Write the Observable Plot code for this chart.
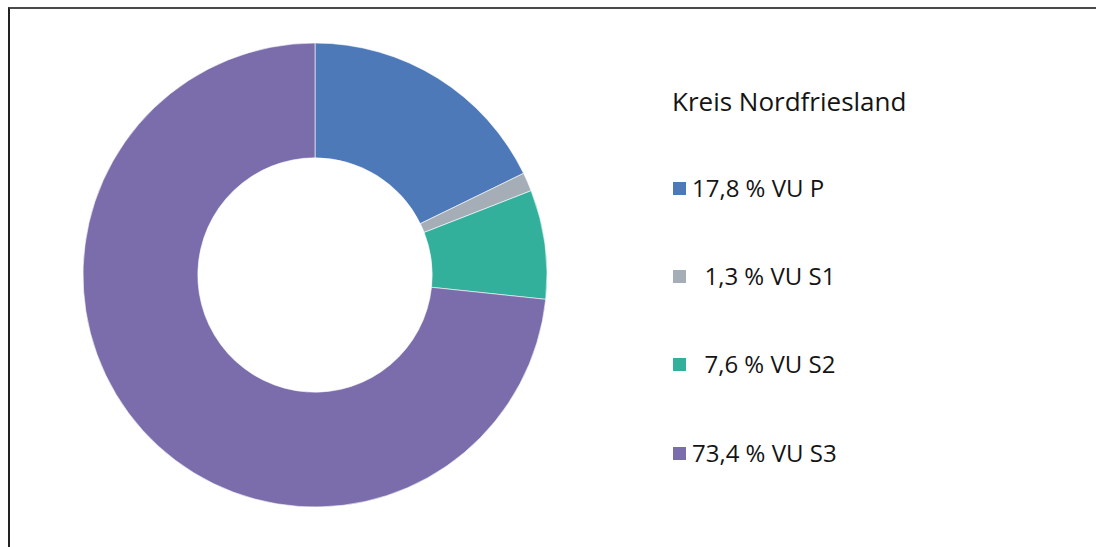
<!DOCTYPE html>
<html>
<head>
<meta charset="utf-8">
<script src="https://cdn.jsdelivr.net/npm/d3@7"></script>
<script src="https://cdn.jsdelivr.net/npm/@observablehq/plot@0.6"></script>
<style>
  html, body { margin: 0; padding: 0; background: #fff; }
  #wrap { position: relative; width: 1096px; height: 547px; overflow: hidden; font-family: "Open Sans", Lato, sans-serif; color: #141414; }
  #frame { position: absolute; left: 8px; top: 7px; right: -10px; bottom: -10px; border-top: 2px solid #4a4a4a; border-left: 2px solid #222; }
  #chart { position: absolute; left: 0; top: 0; }
  #title { position: absolute; left: 672px; top: 88px; font-size: 26px; line-height: 1; white-space: pre; }
  .item { position: absolute; left: 673px; font-size: 24px; line-height: 1; white-space: pre; display: flex; align-items: center; }
  .sw { width: 13px; height: 13px; margin-right: 6px; display: inline-block; flex: none; }
</style>
</head>
<body>
<div id="wrap">
  <div id="frame"></div>
  <div id="chart"></div>
  <div id="title">Kreis Nordfriesland</div>
  <div id="legend"></div>
</div>
<script>
const categories = ["VU P", "VU S1", "VU S2", "VU S3"];
const shares = [17.8, 1.3, 7.6, 73.4];
const labels = ["17,8 % VU P", "  1,3 % VU S1", "  7,6 % VU S2", "73,4 % VU S3"];
const colors = ["#4e79b9", "#a5adb7", "#32b09c", "#7b6dab"];

const data = categories.map((c, i) => ({category: c, share: shares[i], label: labels[i]}));
const pie = d3.pie().sort(null).value(d => d.share)(data);

const colorScale = Plot.scale({color: {type: "ordinal", domain: categories, range: colors}});

const donut = (index, scales, values, dimensions) => {
  const x = scales.x, y = scales.y;
  const cx = x(0), cy = y(0);
  const outer = x(1) - x(0);
  const inner = outer * 0.505;
  const color = scales.color || colorScale.apply;
  const arc = d3.arc().innerRadius(inner).outerRadius(outer);
  const g = d3.create("svg:g").attr("transform", `translate(${cx},${cy})`);
  g.selectAll("path").data(pie).join("path")
    .attr("d", arc)
    .attr("fill", d => color(d.data.category))
    .attr("stroke", "#fff")
    .attr("stroke-width", 0.6);
  return g.node();
};

const chart = Plot.plot({
  width: 1096,
  height: 547,
  margin: 0,
  x: {domain: [-1, 1], range: [83, 547], axis: null},
  y: {domain: [-1, 1], range: [507, 43], axis: null},
  color: {type: "ordinal", domain: categories, range: colors},
  style: {background: "transparent"},
  marks: [donut]
});
document.getElementById("chart").appendChild(chart);

const tops = [176, 264, 352, 441];
const legend = document.getElementById("legend");
data.forEach((d, i) => {
  const item = document.createElement("div");
  item.className = "item";
  item.style.top = tops[i] + "px";
  const sw = document.createElement("span");
  sw.className = "sw";
  sw.style.background = colorScale.apply(d.category);
  const t = document.createElement("span");
  t.textContent = d.label;
  item.appendChild(sw);
  item.appendChild(t);
  legend.appendChild(item);
});
</script>
</body>
</html>
